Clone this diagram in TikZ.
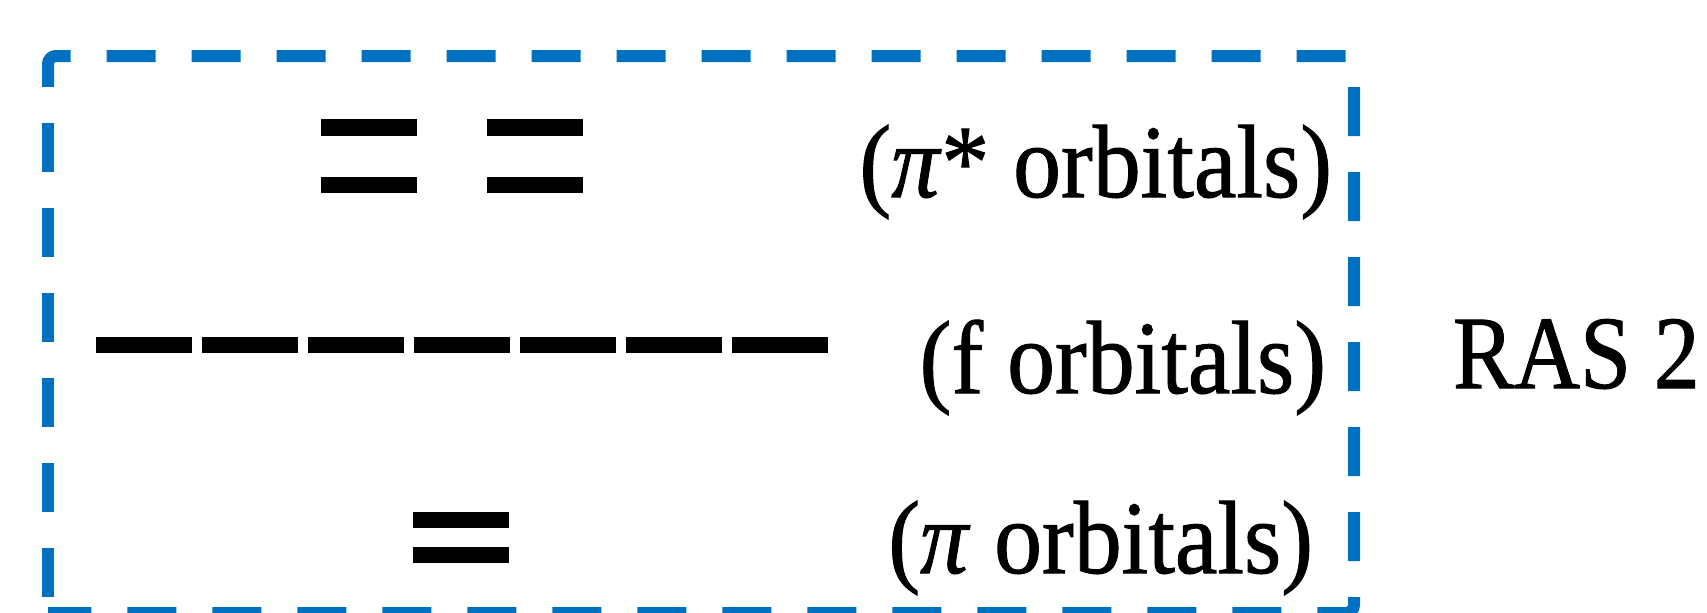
\documentclass[tikz,border=0pt]{standalone}
\usepackage{fontspec}
\setmainfont{Liberation Serif}[FakeBold=1.0]
\definecolor{boxblue}{HTML}{0070C0}
\begin{document}
\begin{tikzpicture}[x=0.5pt,y=-0.5pt,
  level/.style={fill=black, draw=none, minimum width=48pt, minimum height=8.3pt, inner sep=0pt, outer sep=0pt},
  lbl/.style={inner sep=0pt, outer sep=0pt, anchor=base east, font=\fontsize{52}{60}\selectfont},
  ras/.style={draw=boxblue, line width=6pt, dash pattern=on 24.5pt off 18pt, rounded corners=4pt}
]
\useasboundingbox (0,0) rectangle (1707,612);
% dashed frame
\draw[ras] (48,86) -- (48,56) -- (1354,56) -- (1354,613) -- (48,613);
\draw[ras, dash phase=34.5pt] (48,613) -- (48,86);
% pi* levels
\node[level] (pstarAa) at (369,127.5) {};
\node[level] (pstarAb) at (535,127.5) {};
\node[level] (pstarBa) at (369,185) {};
\node[level] (pstarBb) at (535,185) {};
% f levels
\foreach \i/\x in {1/144,2/250,3/356,4/462,5/568,6/674,7/780}
  \node[level] (f\i) at (\x,345) {};
% pi levels
\node[level] (piA) at (461,520) {};
\node[level] (piB) at (461,555) {};
% labels
\node[lbl] (lpistar) at (1332,197) {\scalebox{0.92}[1]{(\textit{π}* orbitals)}};
\node[lbl] (lf) at (1326,393) {\scalebox{0.92}[1]{(f orbitals)}};
\node[lbl] (lpi) at (1313,573) {\scalebox{0.92}[1]{(\textit{π} orbitals)}};
\node[lbl, anchor=base west] (ras) at (1453,388) {\scalebox{0.88}[1]{RAS 2}};
\end{tikzpicture}
\end{document}
